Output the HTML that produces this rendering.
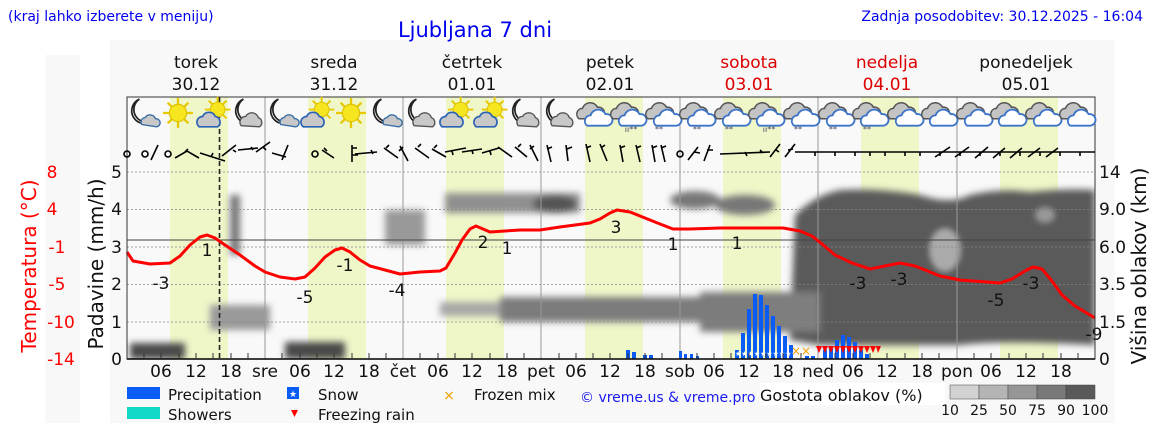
<!DOCTYPE html>
<html><head><meta charset="utf-8"><style>
body{margin:0;background:#fff;width:1152px;height:443px;overflow:hidden;font-family:"Liberation Sans","DejaVu Sans",sans-serif}
svg{display:block}
text{font-family:"DejaVu Sans","Liberation Sans",sans-serif}
</style></head><body>
<svg width="1152" height="443" viewBox="0 0 1152 443" xmlns="http://www.w3.org/2000/svg">
<defs>
<filter id="b3" x="-20%" y="-20%" width="140%" height="140%"><feGaussianBlur stdDeviation="3"/></filter>
<filter id="b5" x="-20%" y="-20%" width="140%" height="140%"><feGaussianBlur stdDeviation="3.5"/></filter>
<clipPath id="pc"><rect x="127" y="97" width="968" height="262"/></clipPath>
<g id="moon"><path d="M-4,-12 A11,11 0 1 0 8,6 A9,9 0 0 1 -4,-12 Z" fill="#fff" stroke="#222" stroke-width="1.5"/>
<path d="M-2,10 a4,4 0 0 1 3,-6 a5,5 0 0 1 9,1 a3.5,3.5 0 0 1 1,7 z" fill="#c8c8c8" stroke="#3a6ea5" stroke-width="1.2"/></g>
<g id="moon2"><path d="M-4,-12 A11,11 0 1 0 8,6 A9,9 0 0 1 -4,-12 Z" fill="#fff" stroke="#222" stroke-width="1.5"/>
<path d="M-6,11 a5,5 0 0 1 4,-8 a6,6 0 0 1 11,1 a4.5,4.5 0 0 1 1,8 z" fill="#c8c8c8" stroke="#555" stroke-width="1.2"/></g>
<g id="sun"><g stroke="#e8c800" stroke-width="2"><line x1="0" y1="-13" x2="0" y2="13"/><line x1="-13" y1="0" x2="13" y2="0"/><line x1="-9" y1="-9" x2="9" y2="9"/><line x1="-9" y1="9" x2="9" y2="-9"/></g><circle r="7.5" fill="#f5e620" stroke="#e0c000"/></g>
<g id="suncl"><use href="#sun" transform="translate(4,-3) scale(0.85)"/><path d="M-12,12 a5,5 0 0 1 3,-9 a6,6 0 0 1 11,0 a5,5 0 0 1 2,9 z" fill="#c8c8c8" stroke="#2a62b5" stroke-width="1.5"/></g>
<g id="cl"><path d="M-13,5 a5,5 0 0 1 3,-9 a7,7 0 0 1 13,-1 a5,5 0 0 1 2,10 z" fill="#c4c4c4" stroke="#555" stroke-width="1.3"/>
<path d="M-6,11 a5,5 0 0 1 3,-9 a7,7 0 0 1 13,-1 a5,5 0 0 1 2,10 z" fill="#fff" stroke="#3c74c8" stroke-width="1.6"/></g>
</defs>
<rect x="110" y="40" width="1005" height="383" fill="#f8f8f8"/>
<rect x="45" y="55" width="35" height="368" fill="#f8f8f8"/>
<rect x="127" y="97" width="968" height="262" fill="#f9f9f9"/>
<g fill="#eff6c8">
<rect x="170" y="97" width="58" height="262"/><rect x="308" y="97" width="58" height="262"/><rect x="446" y="97" width="58" height="262"/><rect x="585" y="97" width="58" height="262"/><rect x="723" y="97" width="58" height="262"/><rect x="861" y="97" width="58" height="262"/><rect x="1000" y="97" width="58" height="262"/>
</g>
<g clip-path="url(#pc)">
<g filter="url(#b5)">
<path d="M795,215 Q815,195 840,190 Q880,188 920,195 Q950,205 970,195 Q1000,188 1030,192 Q1070,188 1095,190 L1095,345 Q1000,340 960,345 Q880,345 820,345 L790,340 Z" fill="#5a5a5a"/>
<rect x="700" y="292" width="120" height="40" fill="#7e7e7e"/>
<rect x="500" y="297" width="260" height="25" fill="#7c7c7c"/>
<rect x="440" y="302" width="60" height="14" fill="#a8a8a8"/>
<rect x="445" y="193" width="135" height="20" fill="#909090"/>
<ellipse cx="555" cy="204" rx="22" ry="9" fill="#555"/>
<ellipse cx="695" cy="200" rx="25" ry="9" fill="#777"/>
<ellipse cx="745" cy="205" rx="30" ry="10" fill="#777"/>
<rect x="385" y="210" width="40" height="35" fill="#999"/>
<rect x="230" y="195" width="10" height="60" fill="#777"/>
<rect x="210" y="305" width="60" height="25" fill="#9a9a9a"/>
<rect x="130" y="343" width="55" height="16" fill="#4a4a4a"/>
<rect x="285" y="342" width="60" height="17" fill="#4a4a4a"/>
</g>
<g filter="url(#b3)">
<ellipse cx="945" cy="250" rx="16" ry="22" fill="#aaa"/>
<ellipse cx="1045" cy="215" rx="10" ry="8" fill="#999"/>
</g>
</g>
<g stroke="#888" stroke-width="0.8" stroke-dasharray="2,2">
<line x1="127" y1="172" x2="1095" y2="172"/><line x1="127" y1="209.5" x2="1095" y2="209.5"/><line x1="127" y1="247" x2="1095" y2="247"/><line x1="127" y1="284.5" x2="1095" y2="284.5"/><line x1="127" y1="322" x2="1095" y2="322"/>
</g>
<g stroke="#999" stroke-width="1">
<line x1="265" y1="97" x2="265" y2="359"/><line x1="403" y1="97" x2="403" y2="359"/><line x1="541" y1="97" x2="541" y2="359"/><line x1="680" y1="97" x2="680" y2="359"/><line x1="818" y1="97" x2="818" y2="359"/><line x1="957" y1="97" x2="957" y2="359"/>
</g>
<line x1="127" y1="240" x2="1095" y2="240" stroke="#444" stroke-width="1"/>
<line x1="219.5" y1="97" x2="219.5" y2="359" stroke="#222" stroke-width="1.6" stroke-dasharray="5,3"/>
<g fill="#0a5cf5">
<rect x="626" y="350" width="4" height="9"/><rect x="632" y="352" width="4" height="7"/><rect x="643" y="355" width="4" height="4"/><rect x="649" y="355" width="4" height="4"/>
<rect x="679" y="351" width="3" height="8"/><rect x="684" y="354" width="3" height="5"/><rect x="690" y="354" width="3" height="5"/><rect x="696" y="356" width="3" height="3"/>
<rect x="735" y="350" width="4" height="9"/><rect x="741" y="333" width="4" height="26"/><rect x="747" y="309" width="4" height="50"/><rect x="753" y="294" width="4" height="65"/><rect x="759" y="295" width="4" height="64"/><rect x="765" y="305" width="4" height="54"/><rect x="771" y="316" width="4" height="43"/><rect x="777" y="326" width="4" height="33"/><rect x="783" y="336" width="4" height="23"/><rect x="789" y="345" width="4" height="14"/>
<rect x="805" y="356" width="4" height="3"/><rect x="811" y="356" width="4" height="3"/>
<rect x="823" y="350" width="4" height="9"/><rect x="829" y="346" width="4" height="13"/><rect x="835" y="340" width="4" height="19"/><rect x="841" y="335" width="4" height="24"/><rect x="847" y="337" width="4" height="22"/><rect x="853" y="342" width="4" height="17"/><rect x="859" y="350" width="4" height="9"/><rect x="865" y="354" width="4" height="5"/>
</g>
<g fill="#fff" font-size="7"><text x="735" y="356">★★★★★★★★★★</text></g>
<text x="791" y="355" fill="#f0a000" font-size="12">××</text>
<g fill="#f00"><path d="M816,346h6l-3,7z M822,346h6l-3,7z M828,346h6l-3,7z M834,346h6l-3,7z M840,346h6l-3,7z M846,346h6l-3,7z M852,346h6l-3,7z M858,346h6l-3,7z M864,346h6l-3,7z M870,346h6l-3,7z M876,346h5l-3,7z"/></g>
<polyline fill="none" stroke="#f00" stroke-width="3" stroke-linejoin="round" points="127,252 133,261 150,264 170,263 180,256 190,245 200,237 207,235 215,238 225,245 240,255 255,266 265,272 280,277 295,279 305,277 315,268 325,257 335,250 342,248 350,252 360,260 370,266 385,270 400,274 420,272 440,271 446,268 455,253 462,240 470,229 476,226 483,229 490,232 505,231 520,230 540,230 560,227 590,223 600,219 610,213 617,210 630,212 645,218 660,224 673,229 690,229 720,228 760,228 783,228 800,231 812,236 822,244 835,255 852,263 870,269 885,266 900,263 915,266 940,276 960,280 1000,283 1012,279 1025,271 1033,267 1042,269 1052,281 1062,295 1075,306 1095,318"/>
<g font-size="17" fill="#111" text-anchor="middle">
<text x="161" y="289">-3</text><text x="207" y="256">1</text><text x="305" y="303">-5</text><text x="345" y="271">-1</text><text x="397" y="296">-4</text><text x="483" y="248">2</text><text x="507" y="254">1</text><text x="616" y="233">3</text><text x="673" y="250">1</text><text x="737" y="249">1</text><text x="858" y="289">-3</text><text x="899" y="285">-3</text><text x="996" y="306">-5</text><text x="1031" y="289">-3</text><text x="1094" y="340">-9</text>
</g>
<rect x="127" y="97" width="968" height="262" fill="none" stroke="#333" stroke-width="1"/>
<line x1="127" y1="359" x2="1095" y2="359" stroke="#000" stroke-width="1.5"/>
<g stroke="#333" stroke-width="1">
<path d="M144,359v-6M161,359v-6M179,359v-6M196,359v-6M213,359v-6M231,359v-6M248,359v-6M282,359v-6M300,359v-6M317,359v-6M334,359v-6M352,359v-6M369,359v-6M386,359v-6M420,359v-6M438,359v-6M455,359v-6M472,359v-6M490,359v-6M507,359v-6M524,359v-6M559,359v-6M576,359v-6M593,359v-6M610,359v-6M628,359v-6M645,359v-6M662,359v-6M697,359v-6M714,359v-6M731,359v-6M749,359v-6M766,359v-6M783,359v-6M801,359v-6M835,359v-6M853,359v-6M870,359v-6M887,359v-6M905,359v-6M922,359v-6M939,359v-6M974,359v-6M991,359v-6M1009,359v-6M1026,359v-6M1043,359v-6M1061,359v-6M1078,359v-6"/>
</g>
<g font-size="17" fill="#111" text-anchor="middle">
<text x="161" y="377">06</text><text x="196" y="377">12</text><text x="231" y="377">18</text><text x="265" y="377">sre</text><text x="300" y="377">06</text><text x="334" y="377">12</text><text x="369" y="377">18</text><text x="403" y="377">čet</text><text x="438" y="377">06</text><text x="472" y="377">12</text><text x="507" y="377">18</text><text x="541" y="377">pet</text><text x="576" y="377">06</text><text x="610" y="377">12</text><text x="645" y="377">18</text><text x="680" y="377">sob</text><text x="714" y="377">06</text><text x="749" y="377">12</text><text x="783" y="377">18</text><text x="818" y="377">ned</text><text x="853" y="377">06</text><text x="887" y="377">12</text><text x="922" y="377">18</text><text x="957" y="377">pon</text><text x="991" y="377">06</text><text x="1026" y="377">12</text><text x="1061" y="377">18</text>
</g>
<g font-size="17" fill="#111" text-anchor="end">
<text x="122" y="365">0</text><text x="122" y="328">1</text><text x="122" y="290">2</text><text x="122" y="253">3</text><text x="122" y="215">4</text><text x="122" y="178">5</text>
</g>
<g font-size="17" fill="#111">
<text x="1099" y="365">0</text><text x="1099" y="328">1.5</text><text x="1099" y="290">3.5</text><text x="1099" y="253">6.0</text><text x="1099" y="215">9.0</text><text x="1099" y="178">14</text>
</g>
<g font-size="17" fill="#f00" text-anchor="middle">
<text x="52" y="178">8</text><text x="52" y="215">4</text><text x="57" y="253">-1</text><text x="57" y="290">-5</text><text x="61" y="328">-10</text><text x="61" y="365">-14</text>
</g>
<text transform="translate(103,264) rotate(-90)" font-size="20" fill="#111" text-anchor="middle">Padavine (mm/h)</text>
<text transform="translate(36,266) rotate(-90)" font-size="20" fill="#f00" text-anchor="middle">Temperatura (°C)</text>
<text transform="translate(1146,266) rotate(-90)" font-size="20" fill="#111" text-anchor="middle">Višina oblakov (km)</text>
<g>
<use href="#moon" transform="translate(144,113) scale(1.15)"/><use href="#sun" transform="translate(178,113) scale(1.15)"/><use href="#suncl" transform="translate(213,113) scale(1.15)"/><use href="#moon2" transform="translate(248,113) scale(1.15)"/>
<use href="#moon" transform="translate(283,113) scale(1.15)"/><use href="#suncl" transform="translate(317,113) scale(1.15)"/><use href="#sun" transform="translate(351,113) scale(1.15)"/><use href="#moon" transform="translate(386,113) scale(1.15)"/>
<use href="#moon2" transform="translate(421,113) scale(1.15)"/><use href="#suncl" transform="translate(456,113) scale(1.15)"/><use href="#suncl" transform="translate(490,113) scale(1.15)"/><use href="#moon2" transform="translate(525,113) scale(1.15)"/>
<use href="#moon2" transform="translate(559,113) scale(1.15)"/>
<use href="#cl" transform="translate(594,113) scale(1.15)"/><use href="#cl" transform="translate(628,113) scale(1.15)"/><use href="#cl" transform="translate(663,113) scale(1.15)"/><use href="#cl" transform="translate(697,113) scale(1.15)"/><use href="#cl" transform="translate(732,113) scale(1.15)"/><use href="#cl" transform="translate(766,113) scale(1.15)"/><use href="#cl" transform="translate(801,113) scale(1.15)"/><use href="#cl" transform="translate(836,113) scale(1.15)"/><use href="#cl" transform="translate(870,113) scale(1.15)"/><use href="#cl" transform="translate(905,113) scale(1.15)"/><use href="#cl" transform="translate(939,113) scale(1.15)"/><use href="#cl" transform="translate(974,113) scale(1.15)"/><use href="#cl" transform="translate(1008,113) scale(1.15)"/><use href="#cl" transform="translate(1043,113) scale(1.15)"/><use href="#cl" transform="translate(1077,113) scale(1.15)"/>
</g>
<g font-size="8" fill="#446" text-anchor="middle">
<text x="631" y="132">ıı**</text><text x="659" y="132">**</text><text x="697" y="132">**</text><text x="729" y="132">**</text><text x="769" y="132">ıı**</text><text x="798" y="132">**</text><text x="833" y="132">**</text><text x="867" y="132">**</text>
</g>
<g stroke="#000" stroke-width="1.6" fill="none">
<circle cx="127" cy="154" r="3"/><circle cx="145" cy="154" r="3"/><line x1="151" y1="160" x2="158" y2="145"/><circle cx="168" cy="154" r="3"/>
<path d="M175,158l12,-7l12,7M185,152l3,-3"/><path d="M200,153l25,8M211,157l2,-4"/><path d="M222,156l14,-11M233,150l3,2M238,150l20,-2M251,147l2,3"/><path d="M256,152l14,-10M263,147l3,3"/><path d="M272,153l14,4"/><path d="M282,160l6,-15"/>
<circle cx="315" cy="154" r="3"/><path d="M322,150l12,8M324,148l3,3"/><path d="M352,145v17M352,155h6M352,148h5"/><path d="M355,154l22,-2M371,150l2,4"/><path d="M384,148l14,10M386,148l3,-3"/>
<path d="M400,146l8,15M399,151l4,-4"/><path d="M415,148l14,10M418,147l3,-3"/><path d="M432,149l14,8M434,148l3,-3"/><path d="M445,152l21,-4M452,151l1,4"/><path d="M462,152l20,-3M472,150l1,4"/><path d="M482,153l17,-5M490,151l1,4"/><path d="M498,147l14,10"/><path d="M515,147l12,10M518,147l3,-3"/><path d="M530,145l8,16M530,149l4,-3"/>
<path d="M547,145l4,17M547,149l5,-2"/><path d="M566,145l2,16M567,149l5,-2"/><path d="M586,144l4,18M586,148l5,-2"/><path d="M600,144l7,17M601,148l4,-3"/><path d="M620,145l3,17M620,148l5,-2"/><path d="M636,145l4,17M636,148l5,-2"/><path d="M652,145l3,17M652,148l5,-2"/><path d="M661,145l4,17M661,148l5,-2"/>
<circle cx="680" cy="154" r="3"/><path d="M688,160l10,-13M694,152l6,1"/><path d="M704,161l6,-16M707,150l6,0"/><path d="M720,154l50,-2M745,152l2,4M760,150l3,3"/><path d="M770,157l10,-13M776,150l3,2"/><path d="M785,157l10,-13M788,150l5,-1"/>
<path d="M795,152l300,0M815,152v4M835,152v4M855,152v4M870,152v4M885,152v4M905,152v4M920,152v4M940,152v4M960,152v4M980,152v4M1000,152v4M1020,152v4M1040,152v4M1060,152v4M1080,152v4"/>
<path d="M935,157l15,-10M955,157l14,-10M975,158l13,-11M993,158l12,-10M1010,158l12,-10M1028,157l12,-9M1046,157l12,-9"/>
</g>
<text x="8" y="21" font-size="14" fill="#0000ee">(kraj lahko izberete v meniju)</text>
<text x="475" y="37" font-size="21" fill="#0000ee" text-anchor="middle">Ljubljana 7 dni</text>
<text x="1143" y="21" font-size="14" fill="#0000ee" text-anchor="end">Zadnja posodobitev: 30.12.2025 - 16:04</text>
<g font-size="17" text-anchor="middle" fill="#111">
<text x="196" y="68">torek</text><text x="196" y="90">30.12</text>
<text x="334" y="68">sreda</text><text x="334" y="90">31.12</text>
<text x="472" y="68">četrtek</text><text x="472" y="90">01.01</text>
<text x="610" y="68">petek</text><text x="610" y="90">02.01</text>
<text x="749" y="68" fill="#d00">sobota</text><text x="749" y="90" fill="#d00">03.01</text>
<text x="887" y="68" fill="#d00">nedelja</text><text x="887" y="90" fill="#d00">04.01</text>
<text x="1026" y="68">ponedeljek</text><text x="1026" y="90">05.01</text>
</g>
<rect x="127" y="387" width="33" height="12" fill="#0a5cf5"/>
<text x="168" y="400" font-size="15" fill="#111">Precipitation</text>
<rect x="127" y="407" width="33" height="12" fill="#12d8c8"/>
<text x="168" y="420" font-size="15" fill="#111">Showers</text>
<rect x="287" y="387" width="12" height="12" fill="#0a5cf5"/><text x="293" y="397" font-size="9" fill="#fff" text-anchor="middle">★</text>
<text x="318" y="400" font-size="15" fill="#111">Snow</text>
<path d="M291,410h7l-3.5,7z" fill="#f00"/>
<text x="318" y="420" font-size="15" fill="#111">Freezing rain</text>
<text x="449" y="400" font-size="14" fill="#f0a000" text-anchor="middle">×</text>
<text x="474" y="400" font-size="15" fill="#111">Frozen mix</text>
<text x="580" y="402" font-size="14" fill="#1a1aee">© vreme.us &amp; vreme.pro</text>
<rect x="760" y="383" width="185" height="22" fill="#fff"/>
<text x="760" y="401" font-size="16" fill="#111">Gostota oblakov (%)</text>
<g stroke="#444" stroke-width="0.5">
<rect x="950" y="385" width="29" height="14" fill="#d2d2d2"/><rect x="979" y="385" width="29" height="14" fill="#b4b4b4"/><rect x="1008" y="385" width="29" height="14" fill="#969696"/><rect x="1037" y="385" width="29" height="14" fill="#787878"/><rect x="1066" y="385" width="29" height="14" fill="#5a5a5a"/>
</g>
<g font-size="14" fill="#111" text-anchor="middle">
<text x="950" y="415">10</text><text x="979" y="415">25</text><text x="1008" y="415">50</text><text x="1037" y="415">75</text><text x="1066" y="415">90</text><text x="1095" y="415">100</text>
</g>
</svg>
</body></html>
